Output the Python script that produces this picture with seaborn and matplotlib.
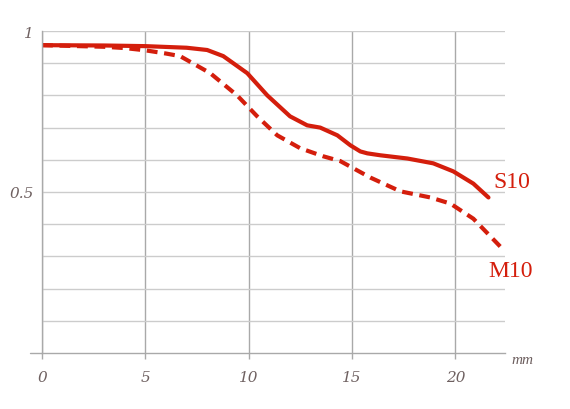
import matplotlib
matplotlib.use("Agg")
import matplotlib.pyplot as plt
import seaborn as sns
import pandas as pd
import numpy as np

# Data
s10_x = [0, 3, 5, 7, 7.99, 8.77, 9.93, 10.9, 12.0, 12.83, 13.46, 14.29, 14.92,
         15.4, 15.74, 16.37, 17.68, 18.93, 19.9, 20.87, 21.6]
s10_y = [0.956, 0.955, 0.953, 0.948, 0.941, 0.922, 0.869, 0.80, 0.735, 0.707, 0.70,
         0.676, 0.645, 0.626, 0.62, 0.614, 0.604, 0.589, 0.564, 0.526, 0.483]
m10_x = [0, 3, 4, 5, 6, 6.68, 8.14, 9.44, 10.41, 11.38, 12.49, 13.6, 14.43,
         15.88, 17.34, 18.79, 19.76, 20.87, 22.18]
m10_y = [0.956, 0.951, 0.947, 0.94, 0.93, 0.922, 0.869, 0.80, 0.735, 0.676, 0.636,
         0.611, 0.596, 0.545, 0.502, 0.483, 0.464, 0.417, 0.330]
x_ticks = [0, 5, 10, 15, 20]
y_ticks = [0.5, 1]
y_tick_labels = ["0.5", "1"]
series_names = ["S10", "M10"]

sns.set_theme(style="white")
plt.rcParams['font.family'] = ['DejaVu Serif']

RED = "#d41e0c"
TXT = "#6e6060"

fig = plt.figure(figsize=(5.7, 4.1), dpi=100)
ax = fig.add_axes([42 / 570, 1 - 354 / 410, (505 - 42) / 570, (354 - 32) / 410])

df_s = pd.DataFrame({"x": s10_x, "y": s10_y})
df_m = pd.DataFrame({"x": m10_x, "y": m10_y})
sns.lineplot(data=df_s, x="x", y="y", ax=ax, color=RED, lw=3.0, sort=False)
sns.lineplot(data=df_m, x="x", y="y", ax=ax, color=RED, lw=3.0, sort=False,
             linestyle=(0, (2.6, 1.6)))
for ln in ax.get_lines():
    ln.set_solid_joinstyle("round")
    ln.set_dash_joinstyle("round")

ax.set_xlim(0, 22.4)
ax.set_ylim(0, 1)
ax.set_xticks(x_ticks)
ax.set_xticklabels([str(t) for t in x_ticks])
ax.set_yticks(y_ticks)
ax.set_yticklabels(y_tick_labels)
ax.set_yticks(np.arange(0.1, 1.0, 0.1), minor=True)
ax.grid(False)
ax.xaxis.grid(True, color="#a9a9a9", lw=1.0)
ax.yaxis.grid(True, which="both", color="#cccccc", lw=1.0)
ax.set_xlabel("")
ax.set_ylabel("")

for sp in ["top", "right"]:
    ax.spines[sp].set_visible(False)
ax.spines["left"].set_color("#a9a9a9")
ax.spines["bottom"].set_color("#a9a9a9")
ax.spines["left"].set_linewidth(1.0)
ax.spines["bottom"].set_linewidth(1.0)
ax.plot([-0.6, 0], [0, 0], color="#a9a9a9", lw=1.0, clip_on=False)

ax.tick_params(axis="x", which="major", length=4, color="#a9a9a9", width=1.0,
               labelsize=11, labelcolor=TXT, pad=8, direction="out", bottom=True)
ax.tick_params(axis="y", which="both", length=0, labelsize=11, labelcolor=TXT, pad=6, left=False)
for lab in ax.get_xticklabels() + ax.get_yticklabels():
    lab.set_fontstyle("italic")
    lab.set_family(["DejaVu Serif"])

ax.text(21.84, 0.533, series_names[0], color=RED, fontsize=17, ha="left", va="center",
        family=["Liberation Serif"], clip_on=False)
ax.text(21.6, 0.255, series_names[1], color=RED, fontsize=17, ha="left", va="center",
        family=["Liberation Serif"], clip_on=False)
ax.text(22.7, -0.02, "mm", color=TXT, fontsize=11, ha="left", va="center",
        fontstyle="italic", family=["Liberation Serif"], clip_on=False)

fig.savefig("out.png", dpi=100)
